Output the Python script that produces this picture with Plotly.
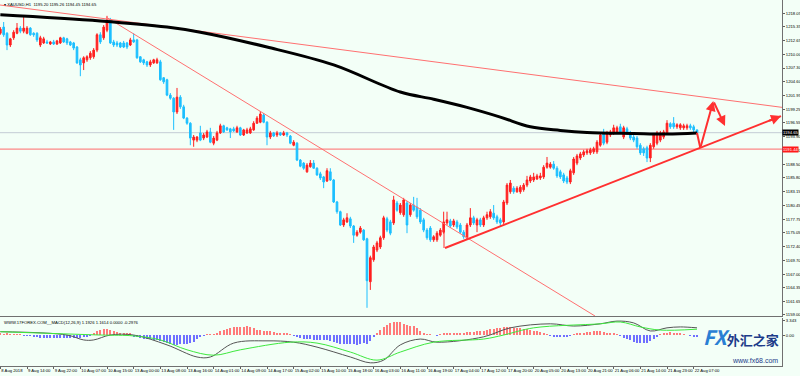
import plotly.graph_objects as go

# ---------------- data ----------------
opens = [
1214.1,1215.3,1214.1,1211.8,1213.2,1214.1,1215.1,1214.5,1214.1,1215.1,
1214.1,1214.1,1211.8,1212.2,1212.4,1212.0,1212.4,1212.0,1212.2,1213.2,
1213.0,1212.4,1212.2,1211.4,1208.9,1208.3,1208.9,1209.3,1209.5,1210.8,
1213.8,1213.2,1214.7,1216.7,1212.4,1212.2,1212.2,1212.2,1212.2,1211.8,
1212.8,1212.8,1209.5,1208.9,1208.5,1207.9,1208.3,1208.3,1208.5,1205.4,
1205.0,1202.0,1201.4,1198.7,1201.6,1199.7,1197.5,1196.5,1193.2,1193.2,
1194.6,1193.6,1193.8,1194.8,1192.6,1193.2,1194.6,1196.0,1195.6,1195.4,
1195.4,1194.8,1195.6,1194.2,1194.6,1194.6,1195.2,1196.5,1196.7,1198.1,
1196.7,1193.8,1194.6,1194.2,1194.6,1194.2,1194.6,1194.0,1192.2,1192.6,
1189.3,1188.7,1187.0,1188.0,1188.7,1187.7,1186.6,1186.0,1185.2,1187.0,
1185.4,1181.1,1179.2,1176.6,1177.2,1177.8,1176.4,1174.6,1175.2,1175.6,
1173.9,1165.5,1169.8,1171.7,1172.3,1174.1,1177.8,1177.2,1177.0,1180.9,
1179.0,1178.6,1180.9,1178.6,1180.5,1180.1,1179.5,1177.6,1175.6,1176.0,
1173.7,1173.7,1174.6,1175.2,1177.0,1177.4,1176.6,1177.2,1176.6,1175.2,
1174.1,1176.6,1178.0,1176.6,1177.6,1176.6,1178.0,1178.2,1178.9,1178.2,
1177.6,1177.2,1180.9,1183.1,1183.8,1183.1,1183.1,1183.5,1184.4,1185.2,
1185.4,1185.6,1185.8,1186.0,1187.9,1187.9,1188.5,1187.7,1187.0,1186.4,
1185.8,1185.0,1186.8,1188.7,1189.7,1190.3,1190.7,1190.7,1190.9,1190.9,
1192.2,1194.6,1192.8,1194.2,1194.6,1194.8,1195.8,1193.8,1195.4,1194.6,
1193.8,1193.6,1192.2,1191.5,1191.7,1189.7,1191.9,1192.6,1193.2,1193.8,
1194.6,1196.4,1196.5,1195.8,1195.6,1195.6,1195.6,1196.0,1195.8,1195.20]
highs = [
1215.3,1216.3,1214.3,1213.2,1214.7,1216.1,1215.5,1217.3,1215.5,1215.3,
1214.3,1214.3,1213.6,1213.4,1212.8,1212.6,1212.8,1212.8,1213.4,1213.4,
1213.2,1212.6,1212.4,1211.6,1209.3,1209.6,1209.8,1210.6,1211.2,1214.1,
1214.3,1215.7,1217.5,1217.1,1212.8,1212.6,1212.4,1212.6,1212.4,1213.2,
1214.1,1213.0,1209.6,1209.1,1208.7,1208.9,1209.1,1209.3,1208.9,1205.5,
1205.2,1202.4,1201.6,1203.4,1202.0,1200.1,1197.7,1196.7,1194.2,1194.0,
1196.0,1194.6,1195.2,1195.6,1194.0,1195.0,1196.4,1196.2,1195.8,1195.6,
1195.8,1196.0,1195.8,1195.4,1195.6,1195.8,1196.9,1197.9,1198.9,1198.5,
1196.9,1195.0,1194.8,1195.0,1194.8,1195.0,1194.8,1194.2,1193.2,1192.8,
1189.5,1188.9,1188.7,1189.3,1189.3,1187.9,1187.0,1186.2,1187.7,1187.7,
1185.6,1181.3,1179.4,1178.0,1178.9,1178.2,1176.6,1175.6,1176.4,1175.8,
1174.1,1170.6,1172.7,1173.5,1174.5,1178.4,1178.2,1177.6,1182.3,1181.3,
1180.9,1181.9,1181.3,1180.9,1182.1,1181.9,1179.9,1178.0,1176.0,1176.4,
1174.6,1175.4,1176.0,1179.2,1179.2,1177.8,1177.8,1177.6,1177.0,1175.6,
1177.0,1179.9,1178.4,1178.0,1178.0,1178.4,1179.2,1179.7,1180.5,1178.6,
1178.0,1181.5,1184.8,1185.4,1184.2,1184.2,1184.4,1184.8,1186.2,1186.4,
1186.8,1186.6,1186.8,1188.3,1189.9,1188.9,1189.1,1188.1,1187.4,1186.8,
1186.2,1187.6,1189.9,1190.5,1190.9,1191.3,1191.5,1191.7,1191.9,1193.2,
1194.6,1195.4,1195.0,1195.2,1196.2,1196.0,1196.4,1196.0,1195.8,1195.0,
1194.2,1194.0,1192.6,1191.9,1192.1,1192.6,1194.6,1195.0,1195.0,1195.2,
1197.1,1196.7,1197.7,1196.5,1196.5,1196.4,1196.4,1196.4,1196.2,1195.26]
lows = [
1213.8,1213.4,1210.8,1211.4,1212.8,1213.9,1214.1,1214.1,1213.9,1213.6,
1213.4,1212.4,1211.4,1212.0,1212.0,1211.8,1211.8,1211.8,1212.0,1212.2,
1211.8,1211.6,1210.8,1208.1,1205.7,1206.9,1208.5,1208.9,1209.1,1210.4,
1212.0,1212.8,1214.3,1212.0,1211.4,1211.4,1211.2,1211.2,1211.0,1211.6,
1212.2,1209.1,1208.3,1207.9,1207.5,1207.5,1208.1,1208.1,1204.8,1204.2,
1201.8,1201.1,1195.2,1198.3,1199.3,1197.3,1196.2,1192.2,1191.9,1192.8,
1193.0,1193.2,1193.6,1192.6,1192.2,1193.0,1194.4,1194.6,1195.0,1193.6,
1194.8,1194.6,1194.0,1194.0,1194.4,1194.4,1195.0,1196.4,1196.5,1196.5,
1192.2,1193.4,1193.8,1193.8,1194.0,1194.0,1193.8,1192.4,1192.0,1189.1,
1187.9,1187.4,1186.8,1187.8,1187.6,1186.2,1185.4,1183.8,1185.0,1185.2,
1180.9,1178.8,1176.4,1176.2,1177.0,1176.0,1173.1,1174.3,1174.9,1173.5,
1160.4,1163.9,1169.4,1171.3,1171.9,1173.7,1175.2,1174.6,1176.6,1179.2,
1178.6,1178.2,1175.0,1178.2,1179.2,1177.8,1176.8,1175.2,1173.7,1173.3,
1173.3,1173.3,1174.3,1174.9,1176.6,1176.0,1176.2,1175.8,1174.9,1173.9,
1173.7,1176.2,1176.6,1175.2,1176.2,1176.2,1177.6,1177.8,1177.6,1176.8,
1176.4,1176.8,1180.5,1182.7,1182.7,1182.9,1182.7,1183.1,1184.0,1184.8,
1185.0,1185.4,1185.4,1185.6,1187.6,1187.6,1187.4,1185.8,1185.6,1184.8,
1184.6,1184.6,1186.4,1188.3,1189.3,1189.9,1190.3,1190.3,1190.5,1190.5,
1191.9,1192.2,1192.4,1193.8,1194.2,1194.4,1194.4,1193.4,1194.2,1193.2,
1192.8,1191.5,1190.3,1190.1,1188.9,1188.9,1191.5,1192.2,1192.8,1193.4,
1194.2,1195.4,1195.4,1195.4,1195.2,1195.2,1195.2,1195.2,1194.8,1194.45]
closes = [
1214.9,1213.8,1211.8,1213.0,1214.3,1215.1,1214.5,1215.1,1215.1,1213.8,
1213.8,1212.8,1213.2,1213.0,1212.2,1212.4,1212.0,1212.6,1213.2,1212.4,
1212.2,1211.8,1211.2,1208.3,1207.9,1209.3,1209.5,1210.2,1210.8,1213.8,
1212.4,1215.3,1216.7,1212.2,1211.8,1211.8,1211.4,1211.4,1211.4,1212.8,
1212.4,1209.3,1208.5,1208.3,1207.9,1208.5,1208.9,1208.9,1205.0,1204.6,
1202.0,1201.4,1198.7,1201.6,1199.7,1197.5,1196.5,1193.6,1193.8,1193.8,
1193.2,1194.2,1194.8,1192.8,1193.6,1194.6,1196.0,1194.8,1195.2,1194.8,
1195.0,1195.6,1194.2,1195.2,1195.2,1195.4,1196.5,1197.5,1198.3,1196.7,
1193.8,1194.6,1194.0,1194.6,1194.2,1194.6,1194.2,1192.6,1192.8,1189.3,
1188.1,1187.7,1188.3,1188.7,1187.7,1186.4,1185.8,1185.0,1187.2,1185.4,
1181.1,1179.2,1176.6,1177.6,1178.0,1176.4,1174.6,1175.2,1176.0,1173.7,
1165.7,1170.2,1172.3,1173.1,1174.1,1178.0,1175.6,1175.0,1181.5,1179.5,
1180.5,1181.5,1176.6,1180.5,1179.5,1178.2,1177.2,1175.6,1174.1,1173.7,
1174.3,1175.0,1175.6,1177.2,1177.6,1176.4,1177.4,1176.2,1175.2,1174.3,
1176.6,1178.0,1177.0,1177.6,1176.6,1178.0,1178.6,1179.2,1178.0,1177.2,
1177.0,1181.1,1184.4,1184.8,1183.1,1183.8,1184.0,1184.4,1185.4,1186.0,
1186.0,1186.2,1186.2,1187.9,1188.7,1188.5,1187.7,1186.2,1186.0,1185.2,
1185.0,1187.2,1189.5,1190.1,1190.5,1190.9,1191.1,1191.3,1191.5,1192.8,
1194.2,1192.6,1194.6,1194.8,1195.6,1195.6,1194.8,1195.6,1194.6,1193.6,
1193.2,1191.9,1190.7,1190.7,1189.7,1192.2,1194.2,1194.6,1194.6,1194.8,
1196.5,1195.8,1195.8,1196.2,1196.2,1196.0,1196.0,1195.6,1195.2,1194.65]

# moving average (thick black), sampled at bars
ma_bars = [0, 30, 50, 60, 80, 100, 120, 130, 140, 150, 159, 168, 176, 190, 200, 209]
ma_vals = [1217.7, 1216.5, 1215.3, 1214.3, 1211.4, 1207.9, 1202.6, 1201.2, 1199.6, 1197.7,
           1195.8, 1195.1, 1194.7, 1194.5, 1194.4, 1194.6]

# MACD panel
hist = [
0.3,0.2,0.3,0.2,0.2,0.1,0.1,-0.1,-0.2,-0.2,
-0.4,-0.5,-0.6,-0.6,-0.6,-0.7,-0.7,-0.6,-0.6,-0.6,
-0.6,-0.6,-0.7,-0.7,-0.6,-0.5,-0.3,-0.2,0.4,0.8,
1.2,1.4,1.3,1.2,1.0,0.6,0.5,0.4,0.4,0.3,
-0.3,-0.5,-0.7,-0.8,-0.9,-1.0,-1.1,-1.2,-1.4,-1.5,
-1.8,-2.0,-2.2,-2.2,-2.1,-2.0,-1.9,-1.8,-1.5,-1.0,
-0.4,-0.2,0.1,0.2,0.2,0.3,0.9,1.2,1.4,1.6,
1.7,1.8,1.8,1.8,1.9,1.8,1.6,1.2,1.1,1.0,
0.9,0.8,0.6,0.5,0.4,0.4,0.3,0.2,-0.1,-0.5,
-0.7,-0.9,-1.0,-1.0,-1.1,-1.1,-1.2,-1.2,-1.2,-1.3,
-1.6,-1.8,-2.0,-2.0,-2.1,-2.0,-2.1,-2.2,-2.0,-1.8,
-2.1,-1.4,-0.4,0.3,1.2,1.8,2.2,2.6,2.9,3.0,
2.9,2.5,2.2,2.1,2.0,1.6,1.0,0.5,0.2,0.1,
0.0,-0.1,0.1,0.4,0.5,0.5,0.4,0.5,0.5,0.5,
0.6,0.7,0.7,0.8,0.9,1.0,1.1,1.3,1.4,1.5,
1.6,1.7,1.8,1.7,1.6,1.6,1.5,1.4,1.4,1.2,
1.0,0.8,0.6,0.4,0.2,-0.2,-0.3,-0.4,-0.4,-0.3,
-0.3,-0.2,0.1,0.3,0.4,0.5,0.6,0.7,0.8,0.9,
0.8,0.7,0.5,0.4,0.3,0.2,-0.2,-0.6,-0.9,-1.2,
-1.5,-1.7,-1.8,-1.8,-1.7,-1.3,-0.9,-0.4,0.2,0.4,
0.5,0.6,0.5,0.4,0.3,0.1,0.0,-0.2,-0.3,-0.4]
macd_bars = [0, 20, 25, 28, 33, 40, 50, 59, 63, 70, 80, 88, 95, 105, 111, 115, 120, 126, 131,
             145, 153, 165, 172, 180, 185, 190, 195, 200, 204, 209]
macd_vals = [0.74, 0.0, -1.1, -1.1, 0.0, 0.0, -2.2, -4.9, -4.9, -1.8, -1.3, -1.6, -2.7, -4.9, -6.2,
             -5.6, -2.2, -0.9, -1.6, -0.4, 1.6, 2.5, 2.0, 2.5, 3.1, 2.7, 0.9, 1.6, 1.8, 1.6]
sig_bars = [0, 30, 40, 48, 56, 64, 72, 87, 95, 105, 113, 120, 130, 145, 151, 160, 180, 186, 192,
            198, 209]
sig_vals = [0.74, 0.0, -0.2, -1.1, -3.3, -4.5, -3.3, -1.6, -1.8, -3.8, -5.6, -3.8, -1.6, -0.9,
            0.0, 1.6, 2.5, 2.9, 1.8, 1.1, 1.3]

# drawn objects (bar index, price)
line_long = ([-0.1, 234.8], [1219.62, 1199.58])
line_down = ([31.7, 178.4], [1217.27, 1158.8])
line_up = ([133.4, 234.2], [1172.1, 1197.9])
up_tick = ([133.1, 133.1], [1176.0, 1172.1])
path_bars = [209.0, 210.0, 213.9, 217.4]
path_vals = [1194.65, 1191.66, 1200.85, 1195.96]
red_level = 1191.44
bid_level = closes[-1]

price_ticks = [1159.00, 1161.65, 1164.35, 1167.00, 1169.70, 1172.40, 1175.05, 1177.75, 1180.45,
               1183.15, 1185.80, 1188.50, 1191.20, 1193.90, 1196.55, 1199.25, 1201.95, 1204.60,
               1207.30, 1210.00, 1212.65, 1215.35, 1218.05]
time_labels = ["8 Aug 2018", "9 Aug 14:00", "9 Aug 22:00", "10 Aug 07:00", "10 Aug 15:00",
               "13 Aug 00:00", "13 Aug 08:00", "13 Aug 16:00", "14 Aug 01:00", "14 Aug 09:00",
               "14 Aug 17:00", "15 Aug 02:00", "15 Aug 10:00", "15 Aug 18:00", "16 Aug 03:00",
               "16 Aug 11:00", "16 Aug 19:00", "17 Aug 04:00", "17 Aug 12:00", "17 Aug 20:00",
               "20 Aug 05:00", "20 Aug 13:00", "20 Aug 21:00", "21 Aug 06:00", "21 Aug 14:00",
               "21 Aug 23:00", "22 Aug 07:00"]
time_label_bars = list(range(0, 8 * len(time_labels), 8))

# ---------------- figure ----------------
BG = "#f3fff7"
RED = "#ff2020"
BLUE = "#1cbfff"
THIN_RED = "#ff7070"
FONT = "Liberation Sans"
TS = 4.2
idx = list(range(len(opens)))

fig = go.Figure()
fig.add_trace(go.Scatter(x=line_long[0], y=line_long[1], mode="lines",
                         line=dict(color=THIN_RED, width=1), hoverinfo="skip"))
fig.add_trace(go.Scatter(x=line_down[0], y=line_down[1], mode="lines",
                         line=dict(color=THIN_RED, width=1), hoverinfo="skip"))
fig.add_trace(go.Scatter(x=ma_bars, y=ma_vals, mode="lines", line_shape="spline",
                         line=dict(color="#000000", width=3), hoverinfo="skip"))
fig.add_trace(go.Candlestick(x=idx, open=opens, high=highs, low=lows, close=closes,
                             increasing=dict(line=dict(color=RED, width=1), fillcolor=RED),
                             decreasing=dict(line=dict(color=BLUE, width=1), fillcolor=BLUE),
                             whiskerwidth=0))
fig.add_trace(go.Scatter(x=line_up[0], y=line_up[1], mode="lines",
                         line=dict(color="#ff3030", width=2), hoverinfo="skip"))
fig.add_trace(go.Scatter(x=up_tick[0], y=up_tick[1], mode="lines",
                         line=dict(color="#ff3030", width=1), hoverinfo="skip"))
fig.add_trace(go.Scatter(x=path_bars[:2], y=path_vals[:2], mode="lines",
                         line=dict(color="#ff3030", width=2), hoverinfo="skip"))

# MACD panel
hist_colors = ["#ff7a7a" if v >= 0 else "#6f6fff" for v in hist]
fig.add_trace(go.Bar(x=idx, y=hist, marker=dict(color=hist_colors, line=dict(width=0)),
                     width=0.35, xaxis="x2", yaxis="y2"))
fig.add_trace(go.Scatter(x=macd_bars, y=macd_vals, mode="lines", line_shape="spline",
                         line=dict(color="#555555", width=1), xaxis="x2", yaxis="y2"))
fig.add_trace(go.Scatter(x=sig_bars, y=sig_vals, mode="lines", line_shape="spline",
                         line=dict(color="#3ee83e", width=1), xaxis="x2", yaxis="y2"))

xr = [-0.1, 234.5]
fig.update_layout(
    width=800, height=376, margin=dict(l=0, r=18, t=0, b=10),
    paper_bgcolor=BG, plot_bgcolor=BG, showlegend=False,
    font=dict(family=FONT, size=TS, color="#000000"),
    xaxis=dict(domain=[0, 1], range=xr, anchor="y", rangeslider=dict(visible=False),
               showgrid=False, zeroline=False, showticklabels=False, ticks="",
               showline=True, linecolor="#707070", linewidth=1),
    yaxis=dict(domain=[0.1366, 1], range=[1158.80, 1220.60], side="right", anchor="x",
               showgrid=False, zeroline=False, tickvals=price_ticks,
               ticktext=["%.2f" % v for v in price_ticks], ticks="outside", ticklen=2,
               tickcolor="#606060", showline=True, linecolor="#707070", linewidth=1,
               tickfont=dict(size=TS, family=FONT), automargin=False),
    xaxis2=dict(domain=[0, 1], range=xr, anchor="y2", showgrid=False, zeroline=False,
                tickvals=time_label_bars, ticktext=time_labels, ticks="outside", ticklen=2,
                tickcolor="#606060", ticklabelposition="outside right", tickangle=0,
                tickfont=dict(size=TS, family=FONT), showline=True, linecolor="#707070",
                linewidth=1, automargin=False),
    yaxis2=dict(domain=[0, 0.1311], range=[-6.91, 3.79], side="right", anchor="x2",
                showgrid=False, zeroline=False, tickvals=[3.343, 0.0],
                ticktext=["3.343", "0.00"], ticks="outside", ticklen=2, tickcolor="#606060",
                showline=True, linecolor="#707070", linewidth=1,
                tickfont=dict(size=TS, family=FONT), automargin=False),
    bargap=0,
)

# horizontal levels
fig.add_shape(type="line", xref="x", yref="y", x0=xr[0], x1=xr[1], y0=bid_level, y1=bid_level,
              line=dict(color="#c3ccd4", width=1), layer="below")
fig.add_shape(type="line", xref="x", yref="y", x0=xr[0], x1=xr[1], y0=red_level, y1=red_level,
              line=dict(color="#ff6a6a", width=1), layer="below")

# arrows of the forecast path
fig.add_annotation(x=path_bars[2], y=path_vals[2], ax=path_bars[1], ay=path_vals[1],
                   xref="x", yref="y", axref="x", ayref="y", text="", showarrow=True,
                   arrowhead=2, arrowsize=1, arrowwidth=2, arrowcolor="#ff3030")
fig.add_annotation(x=path_bars[3], y=path_vals[3], ax=path_bars[2], ay=path_vals[2],
                   xref="x", yref="y", axref="x", ayref="y", text="", showarrow=True,
                   arrowhead=2, arrowsize=1, arrowwidth=2, arrowcolor="#ff3030")
fig.add_annotation(x=line_up[0][1], y=line_up[1][1], ax=line_up[0][1] - 4,
                   ay=line_up[1][1] - 4 * (line_up[1][1] - line_up[1][0]) / (line_up[0][1] - line_up[0][0]),
                   xref="x", yref="y", axref="x", ayref="y", text="", showarrow=True,
                   arrowhead=2, arrowsize=1, arrowwidth=2, arrowcolor="#ff3030")

# price boxes on the axis
fig.add_annotation(x=1.0, xref="paper", y=bid_level, yref="y", text="%.2f" % bid_level,
                   showarrow=False, xanchor="left", bgcolor="#000000",
                   font=dict(color="#ffffff", size=TS, family=FONT), borderpad=0)
fig.add_annotation(x=1.0, xref="paper", y=red_level, yref="y", text="%.2f" % red_level,
                   showarrow=False, xanchor="left", bgcolor="#ff1a1a",
                   font=dict(color="#ffffff", size=TS, family=FONT), borderpad=0)

# headers
fig.add_annotation(x=0.003, xref="paper", y=1.0, yref="paper", yanchor="top", xanchor="left",
                   text="▾ XAUUSD,H1  %.2f %.2f %.2f %.2f" % (opens[-1], highs[-1], lows[-1], closes[-1]),
                   showarrow=False, font=dict(size=TS, family=FONT, color="#000000"))
fig.add_annotation(x=0.003, xref="paper", y=0.1311, yref="paper", yanchor="top", xanchor="left",
                   text="WWW.17FOREX.COM__MACD(12,26,9) 1.1926 1.1614 0.0000 -0.2976",
                   showarrow=False, font=dict(size=TS, family=FONT, color="#000000"))

# watermark
fig.add_annotation(x=0.999, xref="paper", y=0.035, yref="paper", xanchor="right", yanchor="bottom",
                   text="<b><i><span style='color:#2a7fd4;font-size:20px'>FX</span></i></b>"
                        "<b><span style='color:#1d3c8a;font-size:13px'>外汇之家</span></b>",
                   showarrow=False, font=dict(family="Noto Sans CJK SC"))
fig.add_annotation(x=0.997, xref="paper", y=0.0, yref="paper", xanchor="right", yanchor="bottom",
                   text="www.fx68.com", showarrow=False,
                   font=dict(family=FONT, size=7, color="#1d3c8a"))

fig.write_html("out.html", config={"displayModeBar": False},
               post_script="document.body.style.margin='0';document.body.style.padding='0';"
                           "document.body.style.background='%s';" % BG)
